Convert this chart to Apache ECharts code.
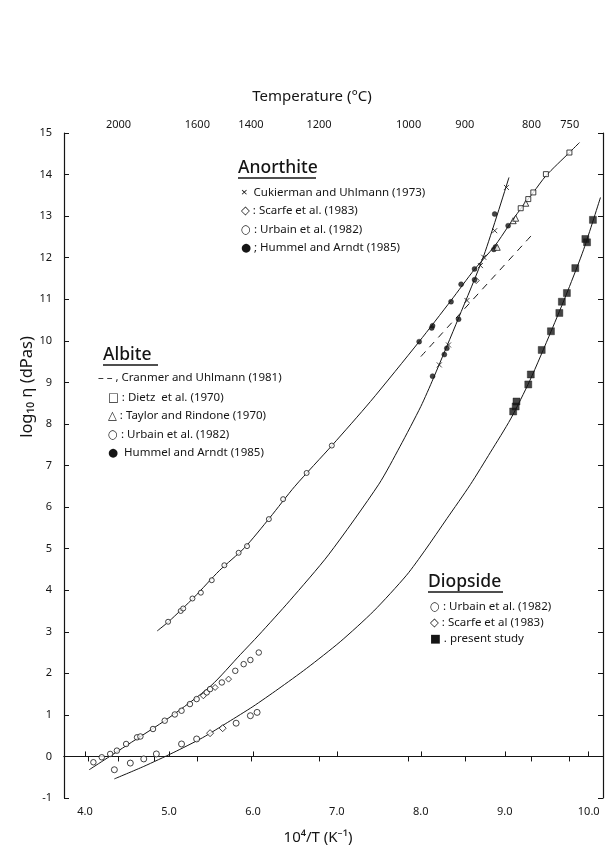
<!DOCTYPE html>
<html><head><meta charset="utf-8">
<script src="https://cdn.jsdelivr.net/npm/echarts@6/dist/echarts.min.js"></script>
<style>html,body{margin:0;padding:0;background:#fff}#c{width:605px;height:852px}</style>
</head><body><div id="c"></div>
<script>
// ---- axis ticks ----
const xTicks = [4, 5, 6, 7, 8, 9, 10];
const topTempTicks = [2200, 2000, 1800, 1600, 1400, 1200, 1000, 900, 800, 750];
const topTempLabels = [2000, 1600, 1400, 1200, 1000, 900, 800, 750];

// ---- Albite ----
const albiteCurve = [[4.86,3.02],[5.0,3.25],[5.3,3.83],[5.6,4.47],[5.9,5.02],[6.2,5.74],[6.5,6.50],[6.95,7.50],[7.4,8.54],[7.98,9.98],[8.36,10.97],[8.64,11.72],[8.88,12.28],[9.04,12.75],[9.18,13.15],[9.34,13.57],[9.49,13.97],[9.77,14.53],[9.89,14.77]];
const albiteCranmer = [[8.0,9.62],[9.32,12.54]];
const albiteDietz = [[9.19,13.19],[9.28,13.41],[9.34,13.57],[9.49,14.01],[9.77,14.53]];
const albiteTaylor = [[8.91,12.25],[9.10,12.89],[9.13,12.95],[9.25,13.31]];
const albiteUrbain = [[4.99,3.24],[5.14,3.50],[5.17,3.56],[5.28,3.80],[5.38,3.94],[5.51,4.24],[5.66,4.60],[5.83,4.90],[5.93,5.06],[6.19,5.71],[6.36,6.19],[6.64,6.82],[6.94,7.48]];
const albiteHummel = [[7.98,9.98],[8.13,10.31],[8.14,10.36],[8.36,10.94],[8.48,11.36],[8.64,11.73],[8.87,12.20],[8.89,12.26],[9.04,12.77]];

// ---- Anorthite ----
const anorthiteCurve = [[4.05,-0.32],[4.5,0.27],[5.0,0.93],[5.5,1.70],[5.85,2.45],[6.07,2.92],[6.44,3.75],[6.9,4.85],[7.5,6.55],[7.75,7.45],[8.0,8.42],[8.15,9.10],[8.45,10.55],[8.75,12.05],[9.05,13.93]];
const anorthiteCukierman = [[8.22,9.42],[8.33,9.90],[8.55,10.97],[8.71,11.81],[8.75,12.01],[8.88,12.65],[9.02,13.69]];
const anorthiteScarfe = [[5.41,1.46],[5.55,1.66],[5.71,1.86],[8.66,11.45]];
const anorthiteUrbain = [[4.10,-0.14],[4.20,-0.02],[4.30,0.06],[4.38,0.14],[4.49,0.30],[4.62,0.46],[4.66,0.48],[4.81,0.66],[4.95,0.86],[5.07,1.01],[5.15,1.10],[5.25,1.26],[5.33,1.38],[5.45,1.54],[5.49,1.62],[5.63,1.78],[5.79,2.06],[5.89,2.22],[5.97,2.32],[6.07,2.50]];
const anorthiteHummel = [[8.14,9.15],[8.28,9.67],[8.31,9.82],[8.45,10.52],[8.64,11.47],[8.88,13.05]];

// ---- Diopside ----
const diopsideCurve = [[4.35,-0.54],[4.7,-0.24],[5.05,0.09],[5.4,0.45],[5.7,0.82],[6.0,1.2],[6.3,1.62],[6.64,2.12],[7.04,2.76],[7.44,3.50],[7.83,4.36],[8.05,4.96],[8.31,5.72],[8.59,6.54],[8.83,7.32],[9.07,8.12],[9.3,9.05],[9.55,10.22],[9.75,11.2],[9.94,12.2],[10.14,13.45]];
const diopsideUrbain = [[4.35,-0.32],[4.54,-0.16],[4.70,-0.06],[4.85,0.06],[5.15,0.30],[5.33,0.42],[5.80,0.80],[5.97,0.98],[6.05,1.06]];
const diopsideScarfe = [[5.49,0.56],[5.64,0.68]];
const diopsidePresent = [[9.10,8.30],[9.13,8.42],[9.14,8.54],[9.28,8.95],[9.31,9.19],[9.44,9.78],[9.55,10.23],[9.65,10.67],[9.68,10.94],[9.74,11.15],[9.84,11.75],[9.96,12.45],[9.98,12.37],[10.05,12.91]];

const INK = '#151515';
const FONT = "'Noto Sans', 'DejaVu Sans', sans-serif";
const toInvT = t => 1e4 / (t + 273.15);

function curve(data, dashed) {
  return { type: 'line', data, showSymbol: false, smooth: 0.25, silent: true, z: 2,
    lineStyle: { color: INK, width: 1, type: dashed ? [7, 6] : 'solid' } };
}
const OPEN = { color: '#fff', borderColor: INK, borderWidth: 1 };
const FILL = { color: INK, borderColor: INK, borderWidth: 0.5 };
const CROSS = 'path://M0,0L10,10M10,0L0,10';
function pts(data, symbol, size, style) {
  return { type: 'scatter', data, symbol, symbolSize: size, itemStyle: style, silent: true, z: 5 };
}

const chart = echarts.init(document.getElementById('c'), null, { renderer: 'canvas' });

function txt(x, y, text, font, extra) {
  return { type: 'text', x, y, style: Object.assign({ text, fill: INK, font: font + ' ' + FONT, textVerticalAlign: 'middle' }, extra || {}) };
}
function uline(x1, x2, y) {
  return { type: 'line', shape: { x1, y1: y, x2, y2: y }, style: { stroke: INK, lineWidth: 1.4 } };
}
const ROW = '11.5px';
const HEAD = '500 17.5px';

const graphics = [
  txt(312, 97, 'Temperature (°C)', '15px', { textAlign: 'center' }),
  txt(318, 838, '10⁴/T (K⁻¹)', '15px', { textAlign: 'center' }),
  { type: 'text', x: 27, y: 387, rotation: Math.PI / 2,
    style: { text: 'log₁₀ η (dPas)', fill: INK, font: '16.5px ' + FONT, textAlign: 'center', textVerticalAlign: 'middle' } },
  // Anorthite block
  txt(238, 168, 'Anorthite', HEAD),
  uline(238, 316, 178),
  txt(241, 193, '×  Cukierman and Uhlmann (1973)', ROW),
  txt(241, 211, '◇ : Scarfe et al. (1983)', ROW),
  txt(241, 230, '○ : Urbain et al. (1982)', ROW),
  txt(241, 248, '● ; Hummel and Arndt (1985)', ROW),
  // Albite block
  txt(103, 355, 'Albite', HEAD),
  uline(103, 158, 365),
  txt(98, 378, '– – , Cranmer and Uhlmann (1981)', ROW),
  txt(108, 398, '□ : Dietz  et al. (1970)', ROW),
  txt(108, 416, '△ : Taylor and Rindone (1970)', ROW),
  txt(108, 435, '○ : Urbain et al. (1982)', ROW),
  txt(108, 453, '●  Hummel and Arndt (1985)', ROW),
  // Diopside block
  txt(428, 582, 'Diopside', HEAD),
  uline(428, 503, 592),
  txt(430, 607, '○ : Urbain et al. (1982)', ROW),
  txt(430, 623, '◇ : Scarfe et al (1983)', ROW),
  txt(430, 639, '■ . present study', ROW)
];

const axisLine = { show: true, lineStyle: { color: INK, width: 1.2 } };
const option = {
  animation: false,
  backgroundColor: '#fff',
  textStyle: { fontFamily: FONT, color: INK },
  grid: { left: 64, right: 2, top: 133, bottom: 54, containLabel: false },
  xAxis: [
    { type: 'value', position: 'bottom', min: 3.75, max: 10.17,
      axisLine, splitLine: { show: false },
      axisTick: { show: true, inside: true, length: 5, lineStyle: { color: INK }, customValues: xTicks },
      axisLabel: { customValues: xTicks, formatter: v => v.toFixed(1), color: INK, fontSize: 11, margin: 8, fontFamily: FONT } },
    { type: 'value', position: 'top', min: 3.75, max: 10.17,
      axisLine, splitLine: { show: false },
      axisTick: { show: true, inside: true, length: 5, lineStyle: { color: INK }, customValues: topTempTicks.map(toInvT) },
      axisLabel: { customValues: topTempLabels.map(toInvT), formatter: v => String(Math.round((1e4 / v - 273.15) / 10) * 10), color: INK, fontSize: 11, margin: 3, fontFamily: FONT } }
  ],
  yAxis: [
    { type: 'value', position: 'left', min: -1, max: 15, interval: 1,
      axisLine, splitLine: { show: false },
      axisTick: { show: true, inside: true, length: 5, lineStyle: { color: INK } },
      axisLabel: { color: INK, fontSize: 11, margin: 12, fontFamily: FONT } },
    { type: 'value', position: 'right', min: -1, max: 15, interval: 1,
      axisLine, splitLine: { show: false },
      axisTick: { show: true, inside: true, length: 5, lineStyle: { color: INK } },
      axisLabel: { show: false } }
  ],
  series: [
    curve(albiteCurve), curve(albiteCranmer, true), curve(anorthiteCurve), curve(diopsideCurve),
    pts(albiteUrbain, 'circle', 5, OPEN),
    pts(albiteHummel, 'circle', 5, FILL),
    pts(albiteTaylor, 'triangle', 6, OPEN),
    pts(albiteDietz, 'rect', 5, OPEN),
    pts(anorthiteUrbain, 'circle', 5.5, OPEN),
    pts(anorthiteScarfe, 'diamond', 6, OPEN),
    pts(anorthiteCukierman, CROSS, 5, { color: 'none', borderColor: INK, borderWidth: 1 }),
    pts(anorthiteHummel, 'circle', 5, FILL),
    pts(diopsideUrbain, 'circle', 6, OPEN),
    pts(diopsideScarfe, 'diamond', 7, OPEN),
    pts(diopsidePresent, 'rect', 7, FILL)
  ],
  graphic: graphics
};
chart.setOption(option);
</script></body></html>
